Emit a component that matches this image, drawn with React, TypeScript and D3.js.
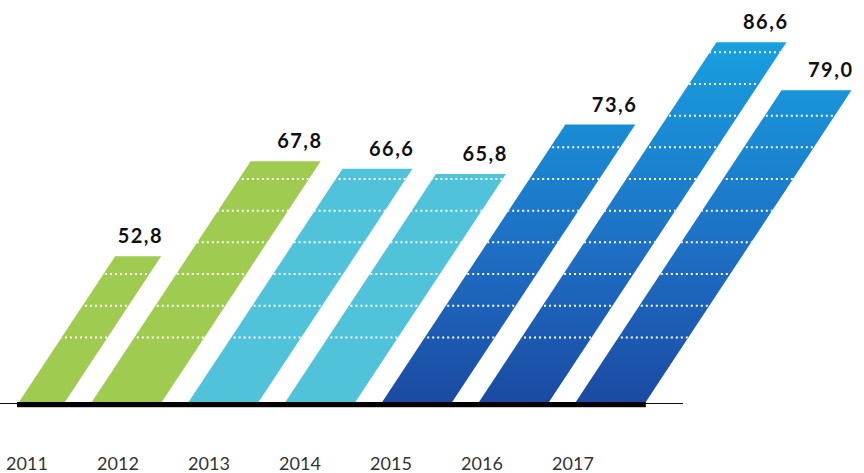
import * as d3 from "d3";

const years = ["2011", "2012", "2013", "2014", "2015", "2016", "2017"];
const values = [52.8, 67.8, 66.6, 65.8, 73.6, 86.6, 79.0];
const gridValues = [40, 45, 50, 55, 60, 65, 70, 75, 80, 85];

const WIDTH = 864;
const HEIGHT = 473;
const BASE = 402;
const SLANT = 0.66;
const PLOT_LEFT = 19;

const fmt = d3
  .formatLocale({ decimal: ",", thousands: ".", grouping: [3], currency: ["", ""] })
  .format(".1f");

const barColor = (year: string) => {
  const y = +year;
  if (y < 2013) return "#9fcb50";
  if (y < 2015) return "#50c2da";
  return "url(#blueGrad)";
};

export default function App() {
  const xScale = d3
    .scaleBand()
    .domain(years)
    .range([-5, 645.8])
    .paddingInner(0.277)
    .paddingOuter(0);

  // year captions sit on their own, slightly tighter rhythm
  const labelScale = d3.scalePoint().domain(years).range([27, 573]);

  const yScale = d3.scaleLinear().domain([29.8, 90]).range([BASE, BASE - 60.2 * 6.335]);

  const w = xScale.bandwidth();

  const bars = years.map((year, i) => {
    const x0 = xScale(year) ?? 0;
    const top = yScale(values[i]);
    const h = BASE - top;
    const shift = h * SLANT;
    const path = d3.path();
    path.moveTo(x0, BASE);
    path.lineTo(x0 + w, BASE);
    path.lineTo(x0 + w + shift, top);
    path.lineTo(x0 + shift, top);
    path.closePath();
    return { year, value: values[i], x0, top, shift, d: path.toString() };
  });

  const lastBar = bars[bars.length - 1];

  // slanted left border of the plot area (cuts the first bar)
  const plotClip = d3.path();
  plotClip.moveTo(PLOT_LEFT, BASE + 10);
  plotClip.lineTo(PLOT_LEFT, BASE);
  plotClip.lineTo(PLOT_LEFT + BASE * SLANT, 0);
  plotClip.lineTo(WIDTH, 0);
  plotClip.lineTo(WIDTH, BASE + 10);
  plotClip.closePath();

  return (
    <svg
      width={WIDTH}
      height={HEIGHT}
      style={{ position: "absolute", left: 0, top: 0, background: "#fff" }}
    >
      <defs>
        <linearGradient
          id="blueGrad"
          gradientUnits="userSpaceOnUse"
          x1={0}
          y1={BASE}
          x2={0}
          y2={yScale(87)}
        >
          <stop offset="0%" stopColor="#1b4aa2" />
          <stop offset="40%" stopColor="#1e6dc3" />
          <stop offset="100%" stopColor="#17a0e0" />
        </linearGradient>
        <clipPath id="plotClip">
          <path d={plotClip.toString()} />
        </clipPath>
        {bars.map((b) => (
          <clipPath id={"clip" + b.year} key={b.year}>
            <path d={b.d} />
          </clipPath>
        ))}
      </defs>

      <g clipPath="url(#plotClip)">
        {bars.map((b) => (
          <g key={b.year}>
            <path d={b.d} fill={barColor(b.year)} />
            <g clipPath={"url(#clip" + b.year + ")"}>
              {gridValues
                .filter((v) => yScale(v) > b.top + 3)
                .map((v) => (
                  <line
                    key={v}
                    x1={b.x0 - 5}
                    x2={b.x0 + w + b.shift + 5}
                    y1={yScale(v)}
                    y2={yScale(v)}
                    stroke="#fff"
                    strokeWidth={2}
                    strokeDasharray="2 3"
                  />
                ))}
            </g>
          </g>
        ))}
      </g>

      {bars.map((b) => (
        <g key={"t" + b.year}>
          <text
            x={b.x0 + w + b.shift + 2}
            y={b.top - 13}
            textAnchor="end"
            fontFamily="Lato, sans-serif"
            fontWeight={700}
            fontSize={20}
            letterSpacing={1.5}
            fill="#111"
          >
            {fmt(b.value)}
          </text>
          <text
            x={labelScale(b.year)}
            y={470}
            textAnchor="middle"
            fontFamily="Lato, sans-serif"
            fontWeight={400}
            fontSize={18}
            fill="#333"
          >
            {b.year}
          </text>
        </g>
      ))}

      <line x1={0} x2={683} y1={403.5} y2={403.5} stroke="#111" strokeWidth={1.2} />
      <rect x={17} y={402} width={lastBar.x0 + w - 17} height={5} fill="#000" />
      <line x1={17} x2={lastBar.x0 + w} y1={407.5} y2={407.5} stroke="#ccc" strokeWidth={1} />
    </svg>
  );
}
